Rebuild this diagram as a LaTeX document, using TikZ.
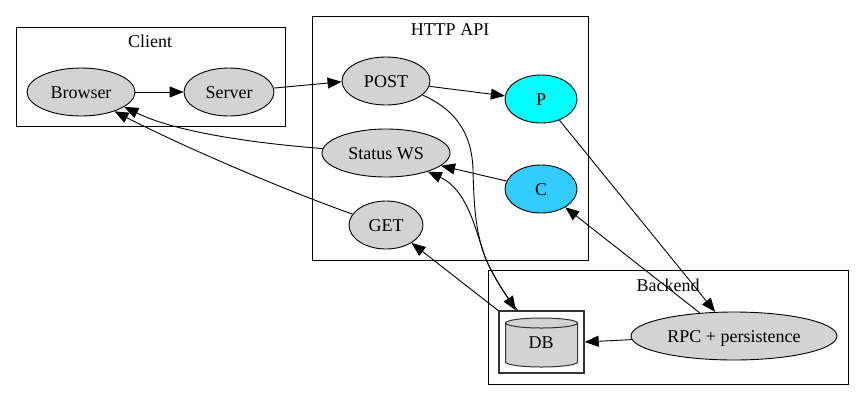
\documentclass[tikz,border=0pt]{standalone}
\usepackage{fontspec}
\setmainfont{Liberation Serif}
\usetikzlibrary{arrows.meta,shapes.geometric}
\definecolor{nodegray}{RGB}{211,211,211}
\definecolor{pcol}{RGB}{0,255,255}
\definecolor{ccol}{RGB}{51,204,255}
\definecolor{boxgray}{RGB}{50,50,50}
\tikzset{
 cluster/.style={draw=black,line width=1pt,inner sep=0pt},
 elli/.style={draw=black,line width=0.9pt,ellipse,fill=nodegray,font=\fontsize{18}{20}\selectfont,inner sep=0pt,minimum height=48pt,text height=12.5pt,text depth=0pt},
 link/.style={draw=black,line width=0.9pt,-{Triangle[length=14pt,width=11pt]}},
 lbl/.style={font=\fontsize{18}{20}\selectfont,inner sep=0pt,text height=12.5pt,text depth=0pt}
}
\begin{document}
\begin{tikzpicture}[x=1pt,y=-1pt]
\useasboundingbox (0,0) rectangle (864,400);
\fill[white] (0,0) rectangle (864,400);
\node[cluster,minimum width=269pt,minimum height=99pt] (client) at (151,77) {};
\node[cluster,minimum width=276pt,minimum height=244pt] (api) at (450,138) {};
\node[cluster,minimum width=360pt,minimum height=114pt] (backend) at (668,327) {};
\node[lbl] (tclient) at (150,41) {Client};
\node[lbl] (tapi) at (450,29) {HTTP API};
\node[lbl] (tback) at (668,285) {Backend};
\node[elli,minimum width=108pt] (browser) at (81,92) {Browser};
\node[elli,minimum width=90pt] (server) at (229,92) {Server};
\node[elli,minimum width=88pt] (post) at (386,81) {POST};
\node[elli,minimum width=128pt] (status) at (386,153) {Status WS};
\node[elli,minimum width=74pt] (get) at (386,225) {GET};
\node[elli,minimum width=72pt,fill=pcol] (p) at (541,99) {P};
\node[elli,minimum width=72pt,fill=ccol] (c) at (541,189) {C};
\node[elli,minimum width=206pt] (rpc) at (734,336) {RPC + persistence};
\node[draw=boxgray,line width=1.4pt,fill=white,minimum width=85pt,minimum height=62pt,inner sep=0pt] (dbbox) at (541.5,342) {};
\draw[draw=boxgray,line width=1pt,fill=nodegray] (505.5,323) -- (505.5,362) arc[start angle=180,end angle=360,x radius=36,y radius=-5] -- (577.5,323) arc[start angle=0,end angle=-180,x radius=36,y radius=5] -- cycle;
\draw[draw=boxgray,line width=1pt] (505.5,323) arc[start angle=180,end angle=360,x radius=36,y radius=-5];
\node[lbl] (db) at (541,342) {DB};
\draw[link] (browser) -- (server);
\draw[link] (server.5) -- (post.181);
\draw[link] (post.-7) -- (p.175);
\draw[link] (post.-21) .. controls (452,108) and (472,130) .. (473,170) .. controls (474,210) and (476,240) .. (490,268) .. controls (497,282) and (506,295) .. (dbbox.129);
\draw[link] (c.167) -- (status.-13);
\draw[link] (dbbox.127) .. controls (503,293) and (492,273) .. (485,257) .. controls (476,232) and (468,190) .. (status.-24);
\draw[link] (status.176) .. controls (265,144) and (180,134) .. (browser.-19);
\draw[link] (get.162) .. controls (290,192) and (190,150) .. (browser.-30);
\draw[link] (p.-49) -- (rpc.128);
\draw[link] (rpc.146) -- (c.-37);
\draw[link] (dbbox.144) -- (get.-35);
\draw[link] (rpc.182) -- (dbbox.east);
\end{tikzpicture}
\end{document}
